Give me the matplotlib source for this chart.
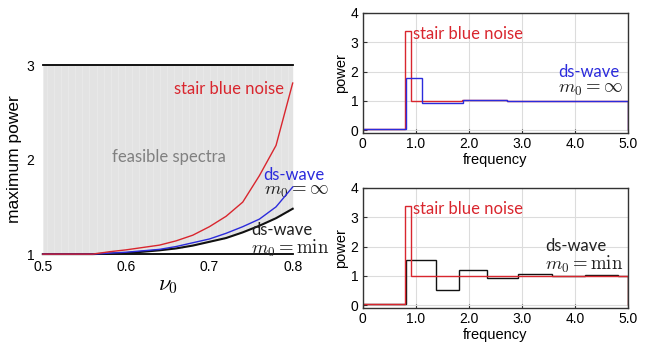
import matplotlib
matplotlib.use("Agg")
import matplotlib.pyplot as plt
import numpy as np

plt.rcParams['mathtext.fontset'] = 'cm'
plt.rcParams['font.family'] = ['Liberation Sans', 'DejaVu Sans']

# ---- left panel data ----
nu0 = [0.50, 0.52, 0.54, 0.56, 0.58, 0.60, 0.62, 0.64, 0.66, 0.68, 0.70, 0.72, 0.74, 0.76, 0.78, 0.80]
stair_max = [1.0, 1.0, 1.0, 1.0, 1.025, 1.045, 1.07, 1.095, 1.14, 1.2, 1.29, 1.40, 1.55, 1.83, 2.15, 2.81]
dsinf_max = [1.0, 1.0, 1.0, 1.0, 1.01, 1.02, 1.035, 1.05, 1.08, 1.12, 1.16, 1.22, 1.29, 1.37, 1.50, 1.71]
dsmin_max = [1.0, 1.0, 1.0, 1.0, 1.005, 1.01, 1.025, 1.04, 1.06, 1.09, 1.13, 1.17, 1.23, 1.30, 1.38, 1.48]

# ---- right panels data ----
stair_edges = [0, 0.80, 0.90, 1.87, 2.72, 5.0]
stair_vals = [0.02, 3.40, 1.00, 1.03, 1.00]
dsinf_edges = [0, 0.81, 1.12, 1.89, 2.72, 5.0]
dsinf_vals = [0.03, 1.78, 0.93, 1.03, 1.00]
stair2_edges = [0, 0.80, 0.90, 5.0]
stair2_vals = [0.02, 3.40, 1.00]
dsmin_edges = [0, 0.81, 1.38, 1.81, 2.34, 2.93, 3.56, 4.19, 4.81, 5.0]
dsmin_vals = [0.02, 1.55, 0.52, 1.20, 0.91, 1.045, 0.98, 1.01, 0.98]

RED = '#d9262e'
BLUE = '#2b2bdc'
BLACK = '#111111'
LABEL_FONT = ['Lato', 'DejaVu Sans']
LFS = 12
MFS = 13.5

fig = plt.figure(figsize=(6.49, 3.5), dpi=100)

# ---------------- left ----------------
ax = fig.add_axes([0.066, 0.274, 0.385, 0.54])
x = np.array(nu0)
ax.fill_between(x, dsmin_max, 3, color='#e3e3e3', lw=0, zorder=0)
for xv in np.arange(0.505, 0.8, 0.0085):
    yb = np.interp(xv, x, dsmin_max)
    ax.plot([xv, xv], [yb, 3], color='#e9e9e9', lw=0.6, zorder=0.5)
ax.plot(nu0, dsmin_max, color=BLACK, lw=1.5, zorder=3, clip_on=False)
ax.plot(nu0, dsinf_max, color=BLUE, lw=1.0, zorder=4, clip_on=False)
ax.plot(nu0, stair_max, color=RED, lw=1.0, zorder=5, clip_on=False)
ax.set_xlim(0.5, 0.8)
ax.set_ylim(1, 3)
ax.set_xticks([0.5, 0.6, 0.7, 0.8])
ax.set_xticklabels(['0.5', '0.6', '0.7', '0.8'])
ax.set_yticks([1, 2, 3])
ax.tick_params(axis='x', length=0, labelsize=10, pad=4)
ax.tick_params(axis='y', length=0, labelsize=10, pad=6)
for s in ['left', 'right']:
    ax.spines[s].set_visible(False)
for s in ['top', 'bottom']:
    ax.spines[s].set_linewidth(1.3)
    ax.spines[s].set_color('black')
ax.set_xlabel(r'$\nu_0$', fontsize=16, labelpad=1)
ax.set_ylabel('maximum power', fontsize=12.5, labelpad=3)
ax.text(0.723, 2.75, 'stair blue noise', color=RED, fontsize=LFS, family=LABEL_FONT, ha='center', va='center')
ax.text(0.652, 2.03, 'feasible spectra', color='#808080', fontsize=LFS, family=LABEL_FONT, ha='center', va='center')
ax.text(0.765, 1.84, 'ds-wave', color=BLUE, fontsize=LFS, family=LABEL_FONT, ha='left', va='center', clip_on=False)
ax.text(0.765, 1.665, r'$m_0 = \infty$', color='#222222', fontsize=MFS, ha='left', va='center', clip_on=False)
ax.text(0.75, 1.25, 'ds-wave', color='#222222', fontsize=LFS, family=LABEL_FONT, ha='left', va='center', clip_on=False)
ax.text(0.75, 1.065, r'$m_0 = \min$', color='#222222', fontsize=MFS, ha='left', va='center', clip_on=False)


def style_right(a):
    a.set_xlim(0, 5)
    a.set_ylim(-0.1, 4)
    a.set_xticks([0, 1, 2, 3, 4, 5])
    a.set_xticklabels(['0', '1.0', '2.0', '3.0', '4.0', '5.0'])
    a.set_yticks([0, 1, 2, 3, 4])
    a.grid(True, color='#dcdcdc', lw=0.8)
    a.set_axisbelow(True)
    a.tick_params(direction='in', length=3, labelsize=10, pad=3, color='#333333')
    for s in a.spines.values():
        s.set_color('#333333')
        s.set_linewidth(1.0)
    a.set_xlabel('frequency', fontsize=10.5, labelpad=1.5)
    a.set_ylabel('power', fontsize=10.5, labelpad=2)


# ---------------- top right ----------------
ax1 = fig.add_axes([0.559, 0.62, 0.409, 0.343])
ax1.stairs(stair_vals, stair_edges, color=RED, lw=1.0)
ax1.stairs(dsinf_vals, dsinf_edges, color=BLUE, lw=1.0)
style_right(ax1)
ax1.text(0.94, 3.28, 'stair blue noise', color=RED, fontsize=LFS, family=LABEL_FONT, ha='left', va='center')
ax1.text(3.68, 1.97, 'ds-wave', color=BLUE, fontsize=LFS, family=LABEL_FONT, ha='left', va='center')
ax1.text(3.68, 1.40, r'$m_0 = \infty$', color='#222222', fontsize=MFS, ha='left', va='center')

# ---------------- bottom right ----------------
ax2 = fig.add_axes([0.559, 0.12, 0.409, 0.343])
ax2.stairs(dsmin_vals, dsmin_edges, color=BLACK, lw=1.0)
ax2.stairs(stair2_vals, stair2_edges, color=RED, lw=1.0)
style_right(ax2)
ax2.text(0.94, 3.28, 'stair blue noise', color=RED, fontsize=LFS, family=LABEL_FONT, ha='left', va='center')
ax2.text(3.43, 2.02, 'ds-wave', color='#222222', fontsize=LFS, family=LABEL_FONT, ha='left', va='center')
ax2.text(3.43, 1.40, r'$m_0 = \min$', color='#222222', fontsize=MFS, ha='left', va='center')

fig.savefig('out.png', dpi=100)
